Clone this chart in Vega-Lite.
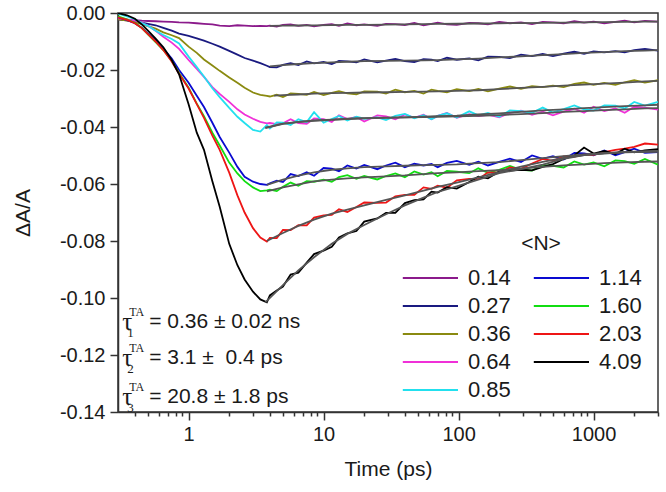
{
"$schema": "https://vega.github.io/schema/vega-lite/v6.json",
"width": 540, "height": 399,
"autosize": {"type": "none"},
"padding": {"left": 118, "top": 13, "right": 8, "bottom": 80},
"background": "white",
"config": {"view": {"stroke": "#333333", "strokeWidth": 1.5}, "font": "Liberation Sans"},
"datasets": {
"obs": [
{"n":"0.14","t":0.3,"v":-0.0022},{"n":"0.14","t":0.35,"v":-0.0024},{"n":"0.14","t":0.4,"v":-0.0025},{"n":"0.14","t":0.45,"v":-0.0027},{"n":"0.14","t":0.5,"v":-0.0028},{"n":"0.14","t":0.57,"v":-0.0029},{"n":"0.14","t":0.65,"v":-0.003},{"n":"0.14","t":0.75,"v":-0.0031},{"n":"0.14","t":0.85,"v":-0.0033},{"n":"0.14","t":1.0,"v":-0.0034},{"n":"0.14","t":1.15,"v":-0.0036},{"n":"0.14","t":1.3,"v":-0.0038},{"n":"0.14","t":1.5,"v":-0.004},{"n":"0.14","t":1.7,"v":-0.0044},{"n":"0.14","t":2.0,"v":-0.0046},{"n":"0.14","t":2.3,"v":-0.0043},{"n":"0.14","t":2.6,"v":-0.0044},{"n":"0.14","t":3.0,"v":-0.0046},{"n":"0.14","t":3.4,"v":-0.0045},{"n":"0.14","t":3.8,"v":-0.0046},
{"n":"0.14","t":4,"v":-0.0044},{"n":"0.14","t":4.5,"v":-0.0048},{"n":"0.14","t":5,"v":-0.0042},{"n":"0.14","t":5.7,"v":-0.004},{"n":"0.14","t":6.5,"v":-0.0045},{"n":"0.14","t":7.5,"v":-0.0042},{"n":"0.14","t":8.5,"v":-0.0047},{"n":"0.14","t":10,"v":-0.0042},{"n":"0.14","t":11.5,"v":-0.0039},{"n":"0.14","t":13,"v":-0.0045},{"n":"0.14","t":15,"v":-0.0037},{"n":"0.14","t":17.5,"v":-0.0043},{"n":"0.14","t":20,"v":-0.004},{"n":"0.14","t":25,"v":-0.0045},{"n":"0.14","t":29,"v":-0.0038},{"n":"0.14","t":34,"v":-0.0039},{"n":"0.14","t":40,"v":-0.0042},{"n":"0.14","t":47,"v":-0.0035},{"n":"0.14","t":55,"v":-0.0043},{"n":"0.14","t":63,"v":-0.0038},{"n":"0.14","t":70,"v":-0.0034},{"n":"0.14","t":82,"v":-0.004},{"n":"0.14","t":97,"v":-0.0042},{"n":"0.14","t":120,"v":-0.0035},{"n":"0.14","t":140,"v":-0.0036},{"n":"0.14","t":165,"v":-0.004},{"n":"0.14","t":200,"v":-0.0031},{"n":"0.14","t":240,"v":-0.0036},{"n":"0.14","t":290,"v":-0.0033},{"n":"0.14","t":350,"v":-0.0039},{"n":"0.14","t":420,"v":-0.0031},{"n":"0.14","t":500,"v":-0.0033},{"n":"0.14","t":600,"v":-0.0036},{"n":"0.14","t":720,"v":-0.0029},{"n":"0.14","t":850,"v":-0.0034},{"n":"0.14","t":1000,"v":-0.003},{"n":"0.14","t":1200,"v":-0.0036},{"n":"0.14","t":1450,"v":-0.0031},{"n":"0.14","t":1700,"v":-0.0027},{"n":"0.14","t":2000,"v":-0.0033},{"n":"0.14","t":2400,"v":-0.0028},{"n":"0.14","t":3000,"v":-0.003},
{"n":"0.27","t":0.3,"v":-0.0022},{"n":"0.27","t":0.35,"v":-0.0026},{"n":"0.27","t":0.4,"v":-0.003},{"n":"0.27","t":0.45,"v":-0.0034},{"n":"0.27","t":0.5,"v":-0.0038},{"n":"0.27","t":0.57,"v":-0.0043},{"n":"0.27","t":0.65,"v":-0.0052},{"n":"0.27","t":0.75,"v":-0.0062},{"n":"0.27","t":0.85,"v":-0.0072},{"n":"0.27","t":1.0,"v":-0.008},{"n":"0.27","t":1.15,"v":-0.0089},{"n":"0.27","t":1.3,"v":-0.0097},{"n":"0.27","t":1.5,"v":-0.0108},{"n":"0.27","t":1.7,"v":-0.0118},{"n":"0.27","t":2.0,"v":-0.0133},{"n":"0.27","t":2.3,"v":-0.0146},{"n":"0.27","t":2.6,"v":-0.0158},{"n":"0.27","t":3.0,"v":-0.0167},{"n":"0.27","t":3.4,"v":-0.0176},{"n":"0.27","t":3.8,"v":-0.0185},
{"n":"0.27","t":4,"v":-0.019},{"n":"0.27","t":4.5,"v":-0.0191},{"n":"0.27","t":5,"v":-0.0182},{"n":"0.27","t":5.7,"v":-0.0176},{"n":"0.27","t":6.5,"v":-0.0183},{"n":"0.27","t":7.5,"v":-0.017},{"n":"0.27","t":8.5,"v":-0.0177},{"n":"0.27","t":10,"v":-0.0172},{"n":"0.27","t":11.5,"v":-0.0179},{"n":"0.27","t":13,"v":-0.0168},{"n":"0.27","t":15,"v":-0.017},{"n":"0.27","t":17.5,"v":-0.0173},{"n":"0.27","t":20,"v":-0.0163},{"n":"0.27","t":25,"v":-0.0173},{"n":"0.27","t":29,"v":-0.0167},{"n":"0.27","t":34,"v":-0.0161},{"n":"0.27","t":40,"v":-0.0169},{"n":"0.27","t":47,"v":-0.0172},{"n":"0.27","t":55,"v":-0.0162},{"n":"0.27","t":63,"v":-0.0164},{"n":"0.27","t":70,"v":-0.0169},{"n":"0.27","t":82,"v":-0.0157},{"n":"0.27","t":97,"v":-0.0164},{"n":"0.27","t":120,"v":-0.0159},{"n":"0.27","t":140,"v":-0.0166},{"n":"0.27","t":165,"v":-0.0153},{"n":"0.27","t":200,"v":-0.0154},{"n":"0.27","t":240,"v":-0.0158},{"n":"0.27","t":290,"v":-0.0146},{"n":"0.27","t":350,"v":-0.0151},{"n":"0.27","t":420,"v":-0.0144},{"n":"0.27","t":500,"v":-0.0151},{"n":"0.27","t":600,"v":-0.0143},{"n":"0.27","t":720,"v":-0.0136},{"n":"0.27","t":850,"v":-0.0143},{"n":"0.27","t":1000,"v":-0.0135},{"n":"0.27","t":1200,"v":-0.0138},{"n":"0.27","t":1450,"v":-0.0134},{"n":"0.27","t":1700,"v":-0.0138},{"n":"0.27","t":2000,"v":-0.013},{"n":"0.27","t":2400,"v":-0.0126},{"n":"0.27","t":3000,"v":-0.0132},
{"n":"0.36","t":0.3,"v":-0.0022},{"n":"0.36","t":0.35,"v":-0.0027},{"n":"0.36","t":0.4,"v":-0.0032},{"n":"0.36","t":0.45,"v":-0.0039},{"n":"0.36","t":0.5,"v":-0.0046},{"n":"0.36","t":0.57,"v":-0.0055},{"n":"0.36","t":0.65,"v":-0.0068},{"n":"0.36","t":0.75,"v":-0.0078},{"n":"0.36","t":0.85,"v":-0.0088},{"n":"0.36","t":1.0,"v":-0.0118},{"n":"0.36","t":1.15,"v":-0.014},{"n":"0.36","t":1.3,"v":-0.0163},{"n":"0.36","t":1.5,"v":-0.0184},{"n":"0.36","t":1.7,"v":-0.0203},{"n":"0.36","t":2.0,"v":-0.0226},{"n":"0.36","t":2.3,"v":-0.0245},{"n":"0.36","t":2.6,"v":-0.0262},{"n":"0.36","t":3.0,"v":-0.0279},{"n":"0.36","t":3.4,"v":-0.0287},{"n":"0.36","t":3.8,"v":-0.0291},
{"n":"0.36","t":4,"v":-0.0293},{"n":"0.36","t":4.5,"v":-0.0287},{"n":"0.36","t":5,"v":-0.0295},{"n":"0.36","t":5.7,"v":-0.0282},{"n":"0.36","t":6.5,"v":-0.0284},{"n":"0.36","t":7.5,"v":-0.0287},{"n":"0.36","t":8.5,"v":-0.0277},{"n":"0.36","t":10,"v":-0.0288},{"n":"0.36","t":11.5,"v":-0.028},{"n":"0.36","t":13,"v":-0.0274},{"n":"0.36","t":15,"v":-0.0282},{"n":"0.36","t":17.5,"v":-0.0285},{"n":"0.36","t":20,"v":-0.0275},{"n":"0.36","t":25,"v":-0.0276},{"n":"0.36","t":29,"v":-0.0283},{"n":"0.36","t":34,"v":-0.0269},{"n":"0.36","t":40,"v":-0.0278},{"n":"0.36","t":47,"v":-0.0273},{"n":"0.36","t":55,"v":-0.0283},{"n":"0.36","t":63,"v":-0.0269},{"n":"0.36","t":70,"v":-0.0273},{"n":"0.36","t":82,"v":-0.0278},{"n":"0.36","t":97,"v":-0.0267},{"n":"0.36","t":120,"v":-0.0274},{"n":"0.36","t":140,"v":-0.0266},{"n":"0.36","t":165,"v":-0.0275},{"n":"0.36","t":200,"v":-0.0265},{"n":"0.36","t":240,"v":-0.0258},{"n":"0.36","t":290,"v":-0.0266},{"n":"0.36","t":350,"v":-0.0257},{"n":"0.36","t":420,"v":-0.026},{"n":"0.36","t":500,"v":-0.0255},{"n":"0.36","t":600,"v":-0.026},{"n":"0.36","t":720,"v":-0.0249},{"n":"0.36","t":850,"v":-0.0244},{"n":"0.36","t":1000,"v":-0.0252},{"n":"0.36","t":1200,"v":-0.0245},{"n":"0.36","t":1450,"v":-0.0252},{"n":"0.36","t":1700,"v":-0.0243},{"n":"0.36","t":2000,"v":-0.0236},{"n":"0.36","t":2400,"v":-0.0244},{"n":"0.36","t":3000,"v":-0.0236},
{"n":"0.64","t":0.3,"v":-0.0018},{"n":"0.64","t":0.35,"v":-0.0022},{"n":"0.64","t":0.4,"v":-0.0027},{"n":"0.64","t":0.45,"v":-0.0034},{"n":"0.64","t":0.5,"v":-0.0045},{"n":"0.64","t":0.57,"v":-0.0062},{"n":"0.64","t":0.65,"v":-0.0083},{"n":"0.64","t":0.75,"v":-0.0104},{"n":"0.64","t":0.85,"v":-0.0126},{"n":"0.64","t":1.0,"v":-0.0165},{"n":"0.64","t":1.15,"v":-0.0196},{"n":"0.64","t":1.3,"v":-0.0224},{"n":"0.64","t":1.5,"v":-0.026},{"n":"0.64","t":1.7,"v":-0.0284},{"n":"0.64","t":2.0,"v":-0.0312},{"n":"0.64","t":2.3,"v":-0.0338},{"n":"0.64","t":2.6,"v":-0.0356},{"n":"0.64","t":3.0,"v":-0.0371},{"n":"0.64","t":3.4,"v":-0.0382},{"n":"0.64","t":3.8,"v":-0.0387},
{"n":"0.64","t":4,"v":-0.0386},{"n":"0.64","t":4.5,"v":-0.039},{"n":"0.64","t":5,"v":-0.0387},{"n":"0.64","t":5.7,"v":-0.0373},{"n":"0.64","t":6.5,"v":-0.0386},{"n":"0.64","t":7.5,"v":-0.0389},{"n":"0.64","t":8.5,"v":-0.037},{"n":"0.64","t":10,"v":-0.0372},{"n":"0.64","t":11.5,"v":-0.0382},{"n":"0.64","t":13,"v":-0.0359},{"n":"0.64","t":15,"v":-0.0372},{"n":"0.64","t":17.5,"v":-0.0365},{"n":"0.64","t":20,"v":-0.0381},{"n":"0.64","t":25,"v":-0.0359},{"n":"0.64","t":29,"v":-0.0363},{"n":"0.64","t":34,"v":-0.0373},{"n":"0.64","t":40,"v":-0.0356},{"n":"0.64","t":47,"v":-0.0368},{"n":"0.64","t":55,"v":-0.0357},{"n":"0.64","t":63,"v":-0.0373},{"n":"0.64","t":70,"v":-0.0361},{"n":"0.64","t":82,"v":-0.0351},{"n":"0.64","t":97,"v":-0.0368},{"n":"0.64","t":120,"v":-0.0355},{"n":"0.64","t":140,"v":-0.0362},{"n":"0.64","t":165,"v":-0.0357},{"n":"0.64","t":200,"v":-0.0366},{"n":"0.64","t":240,"v":-0.035},{"n":"0.64","t":290,"v":-0.0343},{"n":"0.64","t":350,"v":-0.0357},{"n":"0.64","t":420,"v":-0.0346},{"n":"0.64","t":500,"v":-0.0359},{"n":"0.64","t":600,"v":-0.0346},{"n":"0.64","t":720,"v":-0.0336},{"n":"0.64","t":850,"v":-0.035},{"n":"0.64","t":1000,"v":-0.0329},{"n":"0.64","t":1200,"v":-0.0344},{"n":"0.64","t":1450,"v":-0.0335},{"n":"0.64","t":1700,"v":-0.035},{"n":"0.64","t":2000,"v":-0.0329},{"n":"0.64","t":2400,"v":-0.0332},{"n":"0.64","t":3000,"v":-0.0339},
{"n":"0.85","t":0.3,"v":-0.0002},{"n":"0.85","t":0.35,"v":-0.0012},{"n":"0.85","t":0.4,"v":-0.0022},{"n":"0.85","t":0.45,"v":-0.0035},{"n":"0.85","t":0.5,"v":-0.0045},{"n":"0.85","t":0.57,"v":-0.0062},{"n":"0.85","t":0.65,"v":-0.0077},{"n":"0.85","t":0.75,"v":-0.0091},{"n":"0.85","t":0.85,"v":-0.0107},{"n":"0.85","t":1.0,"v":-0.0153},{"n":"0.85","t":1.15,"v":-0.019},{"n":"0.85","t":1.3,"v":-0.0223},{"n":"0.85","t":1.5,"v":-0.0264},{"n":"0.85","t":1.7,"v":-0.0295},{"n":"0.85","t":2.0,"v":-0.0333},{"n":"0.85","t":2.3,"v":-0.0364},{"n":"0.85","t":2.6,"v":-0.0386},{"n":"0.85","t":3.0,"v":-0.041},{"n":"0.85","t":3.4,"v":-0.0416},{"n":"0.85","t":3.8,"v":-0.0393},
{"n":"0.85","t":4,"v":-0.0405},{"n":"0.85","t":4.5,"v":-0.0384},{"n":"0.85","t":5,"v":-0.0385},{"n":"0.85","t":5.7,"v":-0.0393},{"n":"0.85","t":6.5,"v":-0.0373},{"n":"0.85","t":7.5,"v":-0.0383},{"n":"0.85","t":8.5,"v":-0.0348},{"n":"0.85","t":10,"v":-0.0385},{"n":"0.85","t":11.5,"v":-0.0372},{"n":"0.85","t":13,"v":-0.0361},{"n":"0.85","t":15,"v":-0.0377},{"n":"0.85","t":17.5,"v":-0.0364},{"n":"0.85","t":20,"v":-0.0371},{"n":"0.85","t":25,"v":-0.0366},{"n":"0.85","t":29,"v":-0.0376},{"n":"0.85","t":34,"v":-0.0361},{"n":"0.85","t":40,"v":-0.0354},{"n":"0.85","t":47,"v":-0.0369},{"n":"0.85","t":55,"v":-0.0359},{"n":"0.85","t":63,"v":-0.0373},{"n":"0.85","t":70,"v":-0.0361},{"n":"0.85","t":82,"v":-0.0352},{"n":"0.85","t":97,"v":-0.0367},{"n":"0.85","t":120,"v":-0.0345},{"n":"0.85","t":140,"v":-0.0359},{"n":"0.85","t":165,"v":-0.0351},{"n":"0.85","t":200,"v":-0.0364},{"n":"0.85","t":240,"v":-0.0342},{"n":"0.85","t":290,"v":-0.0344},{"n":"0.85","t":350,"v":-0.035},{"n":"0.85","t":420,"v":-0.0332},{"n":"0.85","t":500,"v":-0.0349},{"n":"0.85","t":600,"v":-0.0337},{"n":"0.85","t":720,"v":-0.0324},{"n":"0.85","t":850,"v":-0.0338},{"n":"0.85","t":1000,"v":-0.0342},{"n":"0.85","t":1200,"v":-0.0324},{"n":"0.85","t":1450,"v":-0.0325},{"n":"0.85","t":1700,"v":-0.0335},{"n":"0.85","t":2000,"v":-0.0312},{"n":"0.85","t":2400,"v":-0.0325},{"n":"0.85","t":3000,"v":-0.0312},
{"n":"1.14","t":0.3,"v":-0.0015},{"n":"1.14","t":0.35,"v":-0.0025},{"n":"1.14","t":0.4,"v":-0.0036},{"n":"1.14","t":0.45,"v":-0.0052},{"n":"1.14","t":0.5,"v":-0.0072},{"n":"1.14","t":0.57,"v":-0.0095},{"n":"1.14","t":0.65,"v":-0.0125},{"n":"1.14","t":0.75,"v":-0.016},{"n":"1.14","t":0.85,"v":-0.02},{"n":"1.14","t":1.0,"v":-0.0245},{"n":"1.14","t":1.15,"v":-0.029},{"n":"1.14","t":1.3,"v":-0.033},{"n":"1.14","t":1.5,"v":-0.0385},{"n":"1.14","t":1.7,"v":-0.0435},{"n":"1.14","t":2.0,"v":-0.049},{"n":"1.14","t":2.3,"v":-0.054},{"n":"1.14","t":2.6,"v":-0.0575},{"n":"1.14","t":3.0,"v":-0.0592},{"n":"1.14","t":3.4,"v":-0.06},{"n":"1.14","t":3.8,"v":-0.0603},
{"n":"1.14","t":4,"v":-0.0598},{"n":"1.14","t":4.5,"v":-0.0588},{"n":"1.14","t":5,"v":-0.0593},{"n":"1.14","t":5.7,"v":-0.0565},{"n":"1.14","t":6.5,"v":-0.0572},{"n":"1.14","t":7.5,"v":-0.0559},{"n":"1.14","t":8.5,"v":-0.0571},{"n":"1.14","t":10,"v":-0.0544},{"n":"1.14","t":11.5,"v":-0.0546},{"n":"1.14","t":13,"v":-0.0555},{"n":"1.14","t":15,"v":-0.0535},{"n":"1.14","t":17.5,"v":-0.0546},{"n":"1.14","t":20,"v":-0.0533},{"n":"1.14","t":25,"v":-0.0548},{"n":"1.14","t":29,"v":-0.0535},{"n":"1.14","t":34,"v":-0.0525},{"n":"1.14","t":40,"v":-0.0541},{"n":"1.14","t":47,"v":-0.0529},{"n":"1.14","t":55,"v":-0.0535},{"n":"1.14","t":63,"v":-0.053},{"n":"1.14","t":70,"v":-0.0541},{"n":"1.14","t":82,"v":-0.0526},{"n":"1.14","t":97,"v":-0.0519},{"n":"1.14","t":120,"v":-0.0533},{"n":"1.14","t":140,"v":-0.0522},{"n":"1.14","t":165,"v":-0.0535},{"n":"1.14","t":200,"v":-0.0522},{"n":"1.14","t":240,"v":-0.0511},{"n":"1.14","t":290,"v":-0.0523},{"n":"1.14","t":350,"v":-0.05},{"n":"1.14","t":420,"v":-0.0512},{"n":"1.14","t":500,"v":-0.0502},{"n":"1.14","t":600,"v":-0.0514},{"n":"1.14","t":720,"v":-0.0491},{"n":"1.14","t":850,"v":-0.0493},{"n":"1.14","t":1000,"v":-0.0499},{"n":"1.14","t":1200,"v":-0.0482},{"n":"1.14","t":1450,"v":-0.0499},{"n":"1.14","t":1700,"v":-0.0488},{"n":"1.14","t":2000,"v":-0.0476},{"n":"1.14","t":2400,"v":-0.0491},{"n":"1.14","t":3000,"v":-0.0488},
{"n":"1.60","t":0.3,"v":-0.0012},{"n":"1.60","t":0.35,"v":-0.0022},{"n":"1.60","t":0.4,"v":-0.0035},{"n":"1.60","t":0.45,"v":-0.0052},{"n":"1.60","t":0.5,"v":-0.0075},{"n":"1.60","t":0.57,"v":-0.0102},{"n":"1.60","t":0.65,"v":-0.013},{"n":"1.60","t":0.75,"v":-0.0168},{"n":"1.60","t":0.85,"v":-0.021},{"n":"1.60","t":1.0,"v":-0.0262},{"n":"1.60","t":1.15,"v":-0.0318},{"n":"1.60","t":1.3,"v":-0.0362},{"n":"1.60","t":1.5,"v":-0.042},{"n":"1.60","t":1.7,"v":-0.0465},{"n":"1.60","t":2.0,"v":-0.0525},{"n":"1.60","t":2.3,"v":-0.0563},{"n":"1.60","t":2.6,"v":-0.059},{"n":"1.60","t":3.0,"v":-0.0612},{"n":"1.60","t":3.4,"v":-0.0625},{"n":"1.60","t":3.8,"v":-0.0622},
{"n":"1.60","t":4,"v":-0.062},{"n":"1.60","t":4.5,"v":-0.0625},{"n":"1.60","t":5,"v":-0.061},{"n":"1.60","t":5.7,"v":-0.0595},{"n":"1.60","t":6.5,"v":-0.0606},{"n":"1.60","t":7.5,"v":-0.059},{"n":"1.60","t":8.5,"v":-0.0592},{"n":"1.60","t":10,"v":-0.0585},{"n":"1.60","t":11.5,"v":-0.0592},{"n":"1.60","t":13,"v":-0.0576},{"n":"1.60","t":15,"v":-0.0569},{"n":"1.60","t":17.5,"v":-0.0582},{"n":"1.60","t":20,"v":-0.0572},{"n":"1.60","t":25,"v":-0.0584},{"n":"1.60","t":29,"v":-0.0572},{"n":"1.60","t":34,"v":-0.0563},{"n":"1.60","t":40,"v":-0.0576},{"n":"1.60","t":47,"v":-0.0556},{"n":"1.60","t":55,"v":-0.0567},{"n":"1.60","t":63,"v":-0.0559},{"n":"1.60","t":70,"v":-0.0573},{"n":"1.60","t":82,"v":-0.0554},{"n":"1.60","t":97,"v":-0.0557},{"n":"1.60","t":120,"v":-0.0562},{"n":"1.60","t":140,"v":-0.0545},{"n":"1.60","t":165,"v":-0.0561},{"n":"1.60","t":200,"v":-0.055},{"n":"1.60","t":240,"v":-0.0537},{"n":"1.60","t":290,"v":-0.055},{"n":"1.60","t":350,"v":-0.0553},{"n":"1.60","t":420,"v":-0.0534},{"n":"1.60","t":500,"v":-0.0536},{"n":"1.60","t":600,"v":-0.0542},{"n":"1.60","t":720,"v":-0.0521},{"n":"1.60","t":850,"v":-0.0532},{"n":"1.60","t":1000,"v":-0.0524},{"n":"1.60","t":1200,"v":-0.0538},{"n":"1.60","t":1450,"v":-0.0517},{"n":"1.60","t":1700,"v":-0.052},{"n":"1.60","t":2000,"v":-0.0529},{"n":"1.60","t":2400,"v":-0.0512},{"n":"1.60","t":3000,"v":-0.0532},
{"n":"2.03","t":0.3,"v":-0.0015},{"n":"2.03","t":0.35,"v":-0.0024},{"n":"2.03","t":0.4,"v":-0.0036},{"n":"2.03","t":0.45,"v":-0.0053},{"n":"2.03","t":0.5,"v":-0.0074},{"n":"2.03","t":0.57,"v":-0.01},{"n":"2.03","t":0.65,"v":-0.013},{"n":"2.03","t":0.75,"v":-0.017},{"n":"2.03","t":0.85,"v":-0.0213},{"n":"2.03","t":1.0,"v":-0.0265},{"n":"2.03","t":1.15,"v":-0.032},{"n":"2.03","t":1.3,"v":-0.0368},{"n":"2.03","t":1.5,"v":-0.043},{"n":"2.03","t":1.7,"v":-0.048},{"n":"2.03","t":2.0,"v":-0.056},{"n":"2.03","t":2.3,"v":-0.064},{"n":"2.03","t":2.6,"v":-0.07},{"n":"2.03","t":3.0,"v":-0.0755},{"n":"2.03","t":3.4,"v":-0.0788},{"n":"2.03","t":3.8,"v":-0.0802},
{"n":"2.03","t":4,"v":-0.0789},{"n":"2.03","t":4.5,"v":-0.079},{"n":"2.03","t":5,"v":-0.0761},{"n":"2.03","t":5.7,"v":-0.0762},{"n":"2.03","t":6.5,"v":-0.0744},{"n":"2.03","t":7.5,"v":-0.0745},{"n":"2.03","t":8.5,"v":-0.0718},{"n":"2.03","t":10,"v":-0.071},{"n":"2.03","t":11.5,"v":-0.0708},{"n":"2.03","t":13,"v":-0.0689},{"n":"2.03","t":15,"v":-0.0698},{"n":"2.03","t":17.5,"v":-0.0681},{"n":"2.03","t":20,"v":-0.0665},{"n":"2.03","t":25,"v":-0.0666},{"n":"2.03","t":29,"v":-0.0665},{"n":"2.03","t":34,"v":-0.0643},{"n":"2.03","t":40,"v":-0.0638},{"n":"2.03","t":47,"v":-0.0638},{"n":"2.03","t":55,"v":-0.0612},{"n":"2.03","t":63,"v":-0.0617},{"n":"2.03","t":70,"v":-0.0606},{"n":"2.03","t":82,"v":-0.0613},{"n":"2.03","t":97,"v":-0.0587},{"n":"2.03","t":120,"v":-0.0582},{"n":"2.03","t":140,"v":-0.0583},{"n":"2.03","t":165,"v":-0.0559},{"n":"2.03","t":200,"v":-0.056},{"n":"2.03","t":240,"v":-0.0542},{"n":"2.03","t":290,"v":-0.0547},{"n":"2.03","t":350,"v":-0.0528},{"n":"2.03","t":420,"v":-0.0512},{"n":"2.03","t":500,"v":-0.0519},{"n":"2.03","t":600,"v":-0.0503},{"n":"2.03","t":720,"v":-0.0504},{"n":"2.03","t":850,"v":-0.0497},{"n":"2.03","t":1000,"v":-0.0498},{"n":"2.03","t":1200,"v":-0.0488},{"n":"2.03","t":1450,"v":-0.048},{"n":"2.03","t":1700,"v":-0.0476},{"n":"2.03","t":2000,"v":-0.047},{"n":"2.03","t":2400,"v":-0.0458},{"n":"2.03","t":3000,"v":-0.0462},
{"n":"4.09","t":0.3,"v":0.0},{"n":"4.09","t":0.35,"v":-0.0008},{"n":"4.09","t":0.4,"v":-0.002},{"n":"4.09","t":0.45,"v":-0.004},{"n":"4.09","t":0.5,"v":-0.0062},{"n":"4.09","t":0.57,"v":-0.009},{"n":"4.09","t":0.65,"v":-0.012},{"n":"4.09","t":0.75,"v":-0.0165},{"n":"4.09","t":0.85,"v":-0.0215},{"n":"4.09","t":1.0,"v":-0.032},{"n":"4.09","t":1.15,"v":-0.042},{"n":"4.09","t":1.3,"v":-0.048},{"n":"4.09","t":1.5,"v":-0.059},{"n":"4.09","t":1.7,"v":-0.068},{"n":"4.09","t":2.0,"v":-0.081},{"n":"4.09","t":2.3,"v":-0.0885},{"n":"4.09","t":2.6,"v":-0.0935},{"n":"4.09","t":3.0,"v":-0.0978},{"n":"4.09","t":3.4,"v":-0.1005},{"n":"4.09","t":3.8,"v":-0.1015},
{"n":"4.09","t":4,"v":-0.0991},{"n":"4.09","t":4.5,"v":-0.0974},{"n":"4.09","t":5,"v":-0.096},{"n":"4.09","t":5.7,"v":-0.0918},{"n":"4.09","t":6.5,"v":-0.0911},{"n":"4.09","t":7.5,"v":-0.0876},{"n":"4.09","t":8.5,"v":-0.0846},{"n":"4.09","t":10,"v":-0.0834},{"n":"4.09","t":11.5,"v":-0.082},{"n":"4.09","t":13,"v":-0.0788},{"n":"4.09","t":15,"v":-0.0773},{"n":"4.09","t":17.5,"v":-0.0765},{"n":"4.09","t":20,"v":-0.0732},{"n":"4.09","t":25,"v":-0.0721},{"n":"4.09","t":29,"v":-0.0701},{"n":"4.09","t":34,"v":-0.0701},{"n":"4.09","t":40,"v":-0.0667},{"n":"4.09","t":47,"v":-0.0657},{"n":"4.09","t":55,"v":-0.0654},{"n":"4.09","t":63,"v":-0.0627},{"n":"4.09","t":70,"v":-0.063},{"n":"4.09","t":82,"v":-0.0611},{"n":"4.09","t":97,"v":-0.0616},{"n":"4.09","t":120,"v":-0.0593},{"n":"4.09","t":140,"v":-0.0574},{"n":"4.09","t":165,"v":-0.058},{"n":"4.09","t":200,"v":-0.0556},{"n":"4.09","t":240,"v":-0.0553},{"n":"4.09","t":290,"v":-0.055},{"n":"4.09","t":350,"v":-0.0552},{"n":"4.09","t":420,"v":-0.054},{"n":"4.09","t":500,"v":-0.053},{"n":"4.09","t":600,"v":-0.0512},{"n":"4.09","t":720,"v":-0.05},{"n":"4.09","t":850,"v":-0.0472},{"n":"4.09","t":1000,"v":-0.0493},{"n":"4.09","t":1200,"v":-0.0484},{"n":"4.09","t":1450,"v":-0.0495},{"n":"4.09","t":1700,"v":-0.0476},{"n":"4.09","t":2000,"v":-0.0489},{"n":"4.09","t":2400,"v":-0.0482},{"n":"4.09","t":3000,"v":-0.0478}
],
"fit": [
{"n":"0.14","t":4,"v":-0.0045},{"n":"0.14","t":5,"v":-0.00445},{"n":"0.14","t":6.5,"v":-0.00439},{"n":"0.14","t":8.5,"v":-0.00433},{"n":"0.14","t":11.5,"v":-0.00426},{"n":"0.14","t":15,"v":-0.0042},{"n":"0.14","t":20,"v":-0.00414},{"n":"0.14","t":29,"v":-0.00405},{"n":"0.14","t":40,"v":-0.00398},{"n":"0.14","t":55,"v":-0.0039},{"n":"0.14","t":70,"v":-0.00385},{"n":"0.14","t":97,"v":-0.00377},{"n":"0.14","t":140,"v":-0.00369},{"n":"0.14","t":200,"v":-0.00361},{"n":"0.14","t":290,"v":-0.00353},{"n":"0.14","t":420,"v":-0.00344},{"n":"0.14","t":600,"v":-0.00336},{"n":"0.14","t":850,"v":-0.00328},{"n":"0.14","t":1200,"v":-0.00321},{"n":"0.14","t":1700,"v":-0.00313},{"n":"0.14","t":2400,"v":-0.00305},{"n":"0.14","t":3000,"v":-0.003},
{"n":"0.27","t":4,"v":-0.0187},{"n":"0.27","t":5,"v":-0.0183},{"n":"0.27","t":6.5,"v":-0.0179},{"n":"0.27","t":8.5,"v":-0.0176},{"n":"0.27","t":11.5,"v":-0.0173},{"n":"0.27","t":15,"v":-0.0171},{"n":"0.27","t":20,"v":-0.0169},{"n":"0.27","t":29,"v":-0.0168},{"n":"0.27","t":40,"v":-0.0167},{"n":"0.27","t":55,"v":-0.0166},{"n":"0.27","t":70,"v":-0.0165},{"n":"0.27","t":97,"v":-0.0163},{"n":"0.27","t":140,"v":-0.016},{"n":"0.27","t":200,"v":-0.0156},{"n":"0.27","t":290,"v":-0.0152},{"n":"0.27","t":420,"v":-0.0148},{"n":"0.27","t":600,"v":-0.0144},{"n":"0.27","t":850,"v":-0.014},{"n":"0.27","t":1200,"v":-0.0137},{"n":"0.27","t":1700,"v":-0.0134},{"n":"0.27","t":2400,"v":-0.0132},{"n":"0.27","t":3000,"v":-0.013},
{"n":"0.36","t":4.3,"v":-0.029},{"n":"0.36","t":5,"v":-0.0288},{"n":"0.36","t":6.5,"v":-0.0286},{"n":"0.36","t":8.5,"v":-0.0283},{"n":"0.36","t":11.5,"v":-0.0281},{"n":"0.36","t":15,"v":-0.028},{"n":"0.36","t":20,"v":-0.0279},{"n":"0.36","t":29,"v":-0.0278},{"n":"0.36","t":40,"v":-0.0277},{"n":"0.36","t":55,"v":-0.0276},{"n":"0.36","t":70,"v":-0.0275},{"n":"0.36","t":97,"v":-0.0273},{"n":"0.36","t":140,"v":-0.0271},{"n":"0.36","t":200,"v":-0.0267},{"n":"0.36","t":290,"v":-0.0263},{"n":"0.36","t":420,"v":-0.0259},{"n":"0.36","t":600,"v":-0.0255},{"n":"0.36","t":850,"v":-0.0251},{"n":"0.36","t":1200,"v":-0.0248},{"n":"0.36","t":1700,"v":-0.0244},{"n":"0.36","t":2400,"v":-0.024},{"n":"0.36","t":3000,"v":-0.0238},
{"n":"0.64","t":3.7,"v":-0.0402},{"n":"0.64","t":5,"v":-0.0388},{"n":"0.64","t":6.5,"v":-0.0382},{"n":"0.64","t":8.5,"v":-0.0377},{"n":"0.64","t":11.5,"v":-0.0374},{"n":"0.64","t":15,"v":-0.0371},{"n":"0.64","t":20,"v":-0.0369},{"n":"0.64","t":29,"v":-0.0367},{"n":"0.64","t":40,"v":-0.0366},{"n":"0.64","t":55,"v":-0.0365},{"n":"0.64","t":70,"v":-0.0364},{"n":"0.64","t":97,"v":-0.0363},{"n":"0.64","t":140,"v":-0.0361},{"n":"0.64","t":200,"v":-0.0358},{"n":"0.64","t":290,"v":-0.0355},{"n":"0.64","t":420,"v":-0.0351},{"n":"0.64","t":600,"v":-0.0347},{"n":"0.64","t":850,"v":-0.0344},{"n":"0.64","t":1200,"v":-0.0341},{"n":"0.64","t":1700,"v":-0.0338},{"n":"0.64","t":2400,"v":-0.0335},{"n":"0.64","t":3000,"v":-0.0334},
{"n":"0.85","t":3.7,"v":-0.0404},{"n":"0.85","t":5,"v":-0.0389},{"n":"0.85","t":6.5,"v":-0.0383},{"n":"0.85","t":8.5,"v":-0.0378},{"n":"0.85","t":11.5,"v":-0.0375},{"n":"0.85","t":15,"v":-0.0372},{"n":"0.85","t":20,"v":-0.037},{"n":"0.85","t":29,"v":-0.0368},{"n":"0.85","t":40,"v":-0.0366},{"n":"0.85","t":55,"v":-0.0364},{"n":"0.85","t":70,"v":-0.0362},{"n":"0.85","t":97,"v":-0.036},{"n":"0.85","t":140,"v":-0.0356},{"n":"0.85","t":200,"v":-0.0352},{"n":"0.85","t":290,"v":-0.0347},{"n":"0.85","t":420,"v":-0.0342},{"n":"0.85","t":600,"v":-0.0338},{"n":"0.85","t":850,"v":-0.0334},{"n":"0.85","t":1200,"v":-0.033},{"n":"0.85","t":1700,"v":-0.0327},{"n":"0.85","t":2400,"v":-0.0324},{"n":"0.85","t":3000,"v":-0.0322},
{"n":"1.14","t":3.8,"v":-0.0603},{"n":"1.14","t":5,"v":-0.0585},{"n":"1.14","t":6.5,"v":-0.0571},{"n":"1.14","t":8.5,"v":-0.0559},{"n":"1.14","t":11.5,"v":-0.055},{"n":"1.14","t":15,"v":-0.0545},{"n":"1.14","t":20,"v":-0.0541},{"n":"1.14","t":29,"v":-0.0538},{"n":"1.14","t":40,"v":-0.0536},{"n":"1.14","t":55,"v":-0.0534},{"n":"1.14","t":70,"v":-0.0533},{"n":"1.14","t":97,"v":-0.0531},{"n":"1.14","t":140,"v":-0.0527},{"n":"1.14","t":200,"v":-0.0523},{"n":"1.14","t":290,"v":-0.0516},{"n":"1.14","t":420,"v":-0.0509},{"n":"1.14","t":600,"v":-0.0502},{"n":"1.14","t":850,"v":-0.0496},{"n":"1.14","t":1200,"v":-0.0492},{"n":"1.14","t":1700,"v":-0.0489},{"n":"1.14","t":2400,"v":-0.0487},{"n":"1.14","t":3000,"v":-0.0486},
{"n":"1.60","t":3.8,"v":-0.0626},{"n":"1.60","t":5,"v":-0.0612},{"n":"1.60","t":6.5,"v":-0.0601},{"n":"1.60","t":8.5,"v":-0.0591},{"n":"1.60","t":11.5,"v":-0.0585},{"n":"1.60","t":15,"v":-0.058},{"n":"1.60","t":20,"v":-0.0577},{"n":"1.60","t":29,"v":-0.0573},{"n":"1.60","t":40,"v":-0.057},{"n":"1.60","t":55,"v":-0.0565},{"n":"1.60","t":70,"v":-0.0562},{"n":"1.60","t":97,"v":-0.0559},{"n":"1.60","t":140,"v":-0.0555},{"n":"1.60","t":200,"v":-0.0551},{"n":"1.60","t":290,"v":-0.0546},{"n":"1.60","t":420,"v":-0.054},{"n":"1.60","t":600,"v":-0.0535},{"n":"1.60","t":850,"v":-0.0531},{"n":"1.60","t":1200,"v":-0.0527},{"n":"1.60","t":1700,"v":-0.0524},{"n":"1.60","t":2400,"v":-0.0522},{"n":"1.60","t":3000,"v":-0.0521},
{"n":"2.03","t":3.8,"v":-0.08},{"n":"2.03","t":5,"v":-0.0772},{"n":"2.03","t":6.5,"v":-0.0747},{"n":"2.03","t":8.5,"v":-0.0725},{"n":"2.03","t":11.5,"v":-0.0704},{"n":"2.03","t":15,"v":-0.069},{"n":"2.03","t":20,"v":-0.0675},{"n":"2.03","t":29,"v":-0.0656},{"n":"2.03","t":40,"v":-0.064},{"n":"2.03","t":55,"v":-0.0623},{"n":"2.03","t":70,"v":-0.061},{"n":"2.03","t":97,"v":-0.0595},{"n":"2.03","t":140,"v":-0.0577},{"n":"2.03","t":200,"v":-0.0558},{"n":"2.03","t":290,"v":-0.0539},{"n":"2.03","t":420,"v":-0.0522},{"n":"2.03","t":600,"v":-0.0508},{"n":"2.03","t":850,"v":-0.0499},{"n":"2.03","t":1200,"v":-0.0493},{"n":"2.03","t":1700,"v":-0.0488},{"n":"2.03","t":2400,"v":-0.0486},{"n":"2.03","t":3000,"v":-0.0485},
{"n":"4.09","t":3.7,"v":-0.1015},{"n":"4.09","t":5,"v":-0.0955},{"n":"4.09","t":6.5,"v":-0.0903},{"n":"4.09","t":8.5,"v":-0.0857},{"n":"4.09","t":11.5,"v":-0.081},{"n":"4.09","t":15,"v":-0.0775},{"n":"4.09","t":20,"v":-0.0744},{"n":"4.09","t":29,"v":-0.0706},{"n":"4.09","t":40,"v":-0.0675},{"n":"4.09","t":55,"v":-0.0648},{"n":"4.09","t":70,"v":-0.0628},{"n":"4.09","t":97,"v":-0.0608},{"n":"4.09","t":140,"v":-0.0585},{"n":"4.09","t":200,"v":-0.0562},{"n":"4.09","t":290,"v":-0.0548},{"n":"4.09","t":420,"v":-0.0532},{"n":"4.09","t":600,"v":-0.0512},{"n":"4.09","t":850,"v":-0.0499},{"n":"4.09","t":1200,"v":-0.0492},{"n":"4.09","t":1700,"v":-0.0488},{"n":"4.09","t":2400,"v":-0.0486},{"n":"4.09","t":3000,"v":-0.0486}
],
"ann": [
{"t":0.322,"v":-0.1084,"s":"1","txt":"= 0.36 ± 0.02 ns"},
{"t":0.322,"v":-0.121,"s":"2","txt":"\u00a0= 3.1 ± \u00a00.4 ps"},
{"t":0.322,"v":-0.1347,"s":"3","txt":"\u00a0= 20.8 ± 1.8 ps"}
]
},
"layer": [
{
"data": {"name": "obs"},
"mark": {"type": "line", "clip": true},
"encoding": {
"x": {"field": "t", "type": "quantitative", "title": "Time (ps)",
 "scale": {"type": "log", "domain": [0.3, 3000], "nice": false},
 "axis": {"values": [0.4,0.5,0.6,0.7,0.8,0.9,1,2,3,4,5,6,7,8,9,10,20,30,40,50,60,70,80,90,100,200,300,400,500,600,700,800,900,1000,2000,3000],
  "format": "d",
  "labelExpr": "(datum.value==1||datum.value==10||datum.value==100||datum.value==1000) ? datum.label : ''",
  "tickSize": {"condition": {"test": "datum.value==1||datum.value==10||datum.value==100||datum.value==1000", "value": 8}, "value": 4},
  "grid": false, "domainColor": "#333333", "domainWidth": 1.5, "tickColor": "#333333", "tickWidth": 1.5,
  "labelFontSize": 20, "labelColor": "#1a1a1a", "labelPadding": 4, "labelOverlap": false, "labelFlush": false,
  "titleFontSize": 21, "titleFontWeight": "normal", "titleColor": "#1a1a1a", "titlePadding": 14}},
"y": {"field": "v", "type": "quantitative", "title": "ΔA/A",
 "scale": {"domain": [-0.14, 0], "nice": false, "zero": false},
 "axis": {"values": [-0.14,-0.13,-0.12,-0.11,-0.1,-0.09,-0.08,-0.07,-0.06,-0.05,-0.04,-0.03,-0.02,-0.01,0],
  "labelExpr": "abs(round(datum.value*100)) % 2 == 0 ? replace(format(datum.value, '.2f'), '\u2212', '-') : ''",
  "tickSize": {"condition": {"test": "abs(round(datum.value*100)) % 2 == 0", "value": 8}, "value": 4},
  "grid": false, "domainColor": "#333333", "domainWidth": 1.5, "tickColor": "#333333", "tickWidth": 1.5,
  "labelFontSize": 20, "labelColor": "#1a1a1a", "labelPadding": 5, "labelOverlap": false, "labelFlush": false,
  "titleFontSize": 21, "titleFontWeight": "normal", "titleColor": "#1a1a1a", "titlePadding": 26}},
"color": {"field": "n", "type": "nominal",
 "scale": {"domain": ["0.14","0.27","0.36","0.64","0.85","1.14","1.60","2.03","4.09"],
  "range": ["#8b1a8b","#1a1a80","#8a8a10","#f030d8","#22e0ee","#0a0ad0","#11dd11","#ee1515","#000000"]},
 "legend": {"orient": "none", "legendX": 323, "legendY": 220, "title": "<N>", "titleAnchor": "middle",
  "titleFontSize": 21, "titleFontWeight": "normal", "titleColor": "#1a1a1a", "titlePadding": 13,
  "labelFontSize": 22, "labelColor": "#1a1a1a", "labelOffset": 5,
  "symbolType": "M-8.2,0H1", "symbolSize": 144, "columns": 2, "columnPadding": 19, "rowPadding": 6}},
"strokeWidth": {"field": "n", "type": "nominal",
 "scale": {"domain": ["0.14","0.27","0.36","0.64","0.85","1.14","1.60","2.03","4.09"],
  "range": [1.8,1.8,1.8,1.8,3,1.8,3,1.8,1.8]},
 "legend": {"orient": "none", "legendX": 323, "legendY": 220, "title": "<N>", "titleAnchor": "middle",
  "titleFontSize": 21, "titleFontWeight": "normal", "titleColor": "#1a1a1a", "titlePadding": 13,
  "labelFontSize": 22, "labelColor": "#1a1a1a", "labelOffset": 5,
  "symbolType": "M-8.2,0H1", "symbolSize": 144, "columns": 2, "columnPadding": 19, "rowPadding": 6}}
}
},
{
"data": {"name": "fit"},
"mark": {"type": "line", "color": "#555555", "strokeWidth": 1.8, "clip": true},
"encoding": {
"x": {"field": "t", "type": "quantitative"},
"y": {"field": "v", "type": "quantitative"},
"detail": {"field": "n", "type": "nominal"}
}
},
{
"data": {"name": "ann"},
"mark": {"type": "text", "font": "Liberation Serif", "fontSize": 25, "align": "left", "baseline": "middle", "color": "#1a1a1a"},
"encoding": {"x": {"field": "t", "type": "quantitative"}, "y": {"field": "v", "type": "quantitative"}, "text": {"value": "τ"}}
},
{
"data": {"name": "ann"},
"mark": {"type": "text", "font": "Liberation Serif", "fontSize": 12, "align": "left", "baseline": "middle", "dx": 7, "dy": -10, "color": "#1a1a1a"},
"encoding": {"x": {"field": "t", "type": "quantitative"}, "y": {"field": "v", "type": "quantitative"}, "text": {"value": "TA"}}
},
{
"data": {"name": "ann"},
"mark": {"type": "text", "font": "Liberation Serif", "fontSize": 13, "align": "left", "baseline": "middle", "dx": 5, "dy": 11, "color": "#1a1a1a"},
"encoding": {"x": {"field": "t", "type": "quantitative"}, "y": {"field": "v", "type": "quantitative"}, "text": {"field": "s"}}
},
{
"data": {"name": "ann"},
"mark": {"type": "text", "font": "Liberation Sans", "fontSize": 21, "align": "left", "baseline": "middle", "dx": 27, "color": "#1a1a1a"},
"encoding": {"x": {"field": "t", "type": "quantitative"}, "y": {"field": "v", "type": "quantitative"}, "text": {"field": "txt"}}
}
]
}
